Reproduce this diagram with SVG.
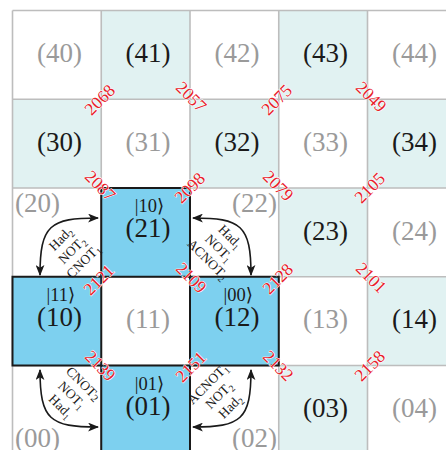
<svg xmlns="http://www.w3.org/2000/svg" width="446" height="450" viewBox="0 0 446 450">
<defs>
<style>
.w{fill:#ffffff}
.t{fill:#e1f2f2}
.b{fill:#7dd0ef}
.lab{font-family:"Liberation Serif","Times New Roman",serif;font-size:27px;text-anchor:middle}
.dk{fill:#1a1a1a}
.gr{fill:#9a9a9a}
.ket{font-family:"Liberation Serif","DejaVu Serif",serif;font-size:18.5px;text-anchor:middle;fill:#1a1a1a}
.num{font-family:"Liberation Serif","Times New Roman",serif;font-size:17.5px;text-anchor:middle;fill:#e8202a;stroke:#ffffff;stroke-width:1;paint-order:stroke}
.op{font-family:"Liberation Serif","Times New Roman",serif;font-size:13.5px;text-anchor:middle;fill:#1a1a1a}
.arc{fill:none;stroke:#1a1a1a;stroke-width:1.6;marker-start:url(#ah);marker-end:url(#ah)}
</style>
<marker id="ah" viewBox="0 0 10 8" refX="9" refY="4" markerWidth="11" markerHeight="9" markerUnits="userSpaceOnUse" orient="auto-start-reverse">
<path d="M0,0 L10,4 L0,8 L2.5,4 z" fill="#1a1a1a"/>
</marker>
</defs>
<rect x="0" y="0" width="446" height="450" fill="#ffffff"/>
<g id="grid">
<rect x="101.25" y="10.5" width="88.75" height="88.75" class="t"/>
<rect x="278.75" y="10.5" width="88.75" height="88.75" class="t"/>
<rect x="12.5" y="99.25" width="88.75" height="88.75" class="t"/>
<rect x="190" y="99.25" width="88.75" height="88.75" class="t"/>
<rect x="367.5" y="99.25" width="88.75" height="88.75" class="t"/>
<rect x="278.75" y="188" width="88.75" height="88.75" class="t"/>
<rect x="367.5" y="276.75" width="88.75" height="88.75" class="t"/>
<rect x="278.75" y="365.5" width="88.75" height="88.75" class="t"/>
<g stroke="#bdbdbd" stroke-width="1.6" fill="none">
<path d="M12.5,10.5 H446 M12.5,99.25 H446 M12.5,188 H446 M12.5,276.75 H446 M12.5,365.5 H446"/>
<path d="M12.5,10.5 V450 M101.25,10.5 V450 M190,10.5 V450 M278.75,10.5 V450 M367.5,10.5 V450"/>
</g>
</g>
<g id="c40"><text class="lab gr" x="59.4" y="62">(40)</text></g>
<g id="c41"><text class="lab dk" x="148.1" y="62">(41)</text></g>
<g id="c42"><text class="lab gr" x="236.9" y="62">(42)</text></g>
<g id="c43"><text class="lab dk" x="325.6" y="62">(43)</text></g>
<g id="c44"><text class="lab gr" x="414.4" y="62">(44)</text></g>
<g id="c30"><text class="lab dk" x="59.4" y="150.7">(30)</text></g>
<g id="c31"><text class="lab gr" x="148.1" y="150.7">(31)</text></g>
<g id="c32"><text class="lab dk" x="236.9" y="150.7">(32)</text></g>
<g id="c33"><text class="lab gr" x="325.6" y="150.7">(33)</text></g>
<g id="c34"><text class="lab dk" x="414.4" y="150.7">(34)</text></g>
<g id="c20"><text class="lab gr" x="15" y="212" style="text-anchor:start">(20)</text></g>
<g id="c22"><text class="lab gr" x="277" y="212" style="text-anchor:end">(22)</text></g>
<g id="c23"><text class="lab dk" x="325.6" y="239.5">(23)</text></g>
<g id="c24"><text class="lab gr" x="414.4" y="239.5">(24)</text></g>
<g id="c11"><text class="lab gr" x="148.1" y="328.2">(11)</text></g>
<g id="c13"><text class="lab gr" x="325.6" y="328.2">(13)</text></g>
<g id="c14"><text class="lab dk" x="414.4" y="328.2">(14)</text></g>
<g id="c00"><text class="lab gr" x="15" y="447" style="text-anchor:start">(00)</text></g>
<g id="c02"><text class="lab gr" x="277" y="447" style="text-anchor:end">(02)</text></g>
<g id="c03"><text class="lab dk" x="325.6" y="417">(03)</text></g>
<g id="c04"><text class="lab gr" x="414.4" y="417">(04)</text></g>
<g id="c21">
<rect x="101.25" y="188" width="88.75" height="88.75" class="b" stroke="#1a1a1a" stroke-width="2"/>
<text class="ket" x="149.5" y="212">|10⟩</text>
<text class="lab dk" x="148.1" y="237">(21)</text>
</g>
<g id="c10">
<rect x="12.5" y="276.75" width="88.75" height="88.75" class="b" stroke="#1a1a1a" stroke-width="2"/>
<text class="ket" x="60.8" y="300.75">|11⟩</text>
<text class="lab dk" x="59.4" y="325.75">(10)</text>
</g>
<g id="c12">
<rect x="190" y="276.75" width="88.75" height="88.75" class="b" stroke="#1a1a1a" stroke-width="2"/>
<text class="ket" x="238.3" y="300.75">|00⟩</text>
<text class="lab dk" x="236.9" y="325.75">(12)</text>
</g>
<g id="c01">
<rect x="101.25" y="365.5" width="88.75" height="88.75" class="b" stroke="#1a1a1a" stroke-width="2"/>
<text class="ket" x="149.5" y="389.5">|01⟩</text>
<text class="lab dk" x="148.1" y="414.5">(01)</text>
</g>
<g id="connectors">
<path class="arc" d="M40,275 C40,225 50,218 98,218"/>
<path class="arc" d="M251,275 C251,225 241,218 193,218"/>
<path class="arc" d="M40,370 C40,420 50,427 98,427"/>
<path class="arc" d="M251,370 C251,420 241,427 193,427"/>
<g transform="translate(72,250) rotate(-45)">
<text class="op" x="0" y="-11.5">Had<tspan font-size="9.5" dy="3">2</tspan></text>
<text class="op" x="0" y="4.5">NOT<tspan font-size="9.5" dy="3">2</tspan></text>
<text class="op" x="0" y="20.5">CNOT<tspan font-size="9.5" dy="3">1</tspan></text>
</g>
<g transform="translate(219,248) rotate(45)">
<text class="op" x="0" y="-11.5">Had<tspan font-size="9.5" dy="3">1</tspan></text>
<text class="op" x="0" y="4.5">NOT<tspan font-size="9.5" dy="3">1</tspan></text>
<text class="op" x="0" y="20.5">ACNOT<tspan font-size="9.5" dy="3">2</tspan></text>
</g>
<g transform="translate(72,395) rotate(45)">
<text class="op" x="0" y="-11.5">CNOT<tspan font-size="11" dy="1.5">2</tspan></text>
<text class="op" x="0" y="4.5">NOT<tspan font-size="9.5" dy="3">1</tspan></text>
<text class="op" x="0" y="20.5">Had<tspan font-size="9.5" dy="3">1</tspan></text>
</g>
<g transform="translate(219,395) rotate(-45)">
<text class="op" x="0" y="-11.5">ACNOT<tspan font-size="9.5" dy="3">1</tspan></text>
<text class="op" x="0" y="4.5">NOT<tspan font-size="9.5" dy="3">2</tspan></text>
<text class="op" x="0" y="20.5">Had<tspan font-size="9.5" dy="3">2</tspan></text>
</g>
</g>
<g id="numbers">
<text class="num" transform="translate(100,100) rotate(-45)" y="5.5">2068</text>
<text class="num" transform="translate(191,97) rotate(45)" y="5.5">2057</text>
<text class="num" transform="translate(277,100) rotate(-45)" y="5.5">2075</text>
<text class="num" transform="translate(371,97) rotate(45)" y="5.5">2049</text>
<text class="num" transform="translate(100,186) rotate(45)" y="5.5">2087</text>
<text class="num" transform="translate(190,188) rotate(-45)" y="5.5">2098</text>
<text class="num" transform="translate(278,186) rotate(45)" y="5.5">2079</text>
<text class="num" transform="translate(370,188) rotate(-45)" y="5.5">2105</text>
<text class="num" transform="translate(99,280) rotate(-45)" y="5.5">2121</text>
<text class="num" transform="translate(191,278) rotate(45)" y="5.5">2109</text>
<text class="num" transform="translate(278,279) rotate(-45)" y="5.5">2128</text>
<text class="num" transform="translate(371,278) rotate(45)" y="5.5">2101</text>
<text class="num" transform="translate(100,366) rotate(45)" y="5.5">2139</text>
<text class="num" transform="translate(191,367) rotate(-45)" y="5.5">2151</text>
<text class="num" transform="translate(278,366) rotate(45)" y="5.5">2132</text>
<text class="num" transform="translate(370,366) rotate(-45)" y="5.5">2158</text>
</g>
</svg>
